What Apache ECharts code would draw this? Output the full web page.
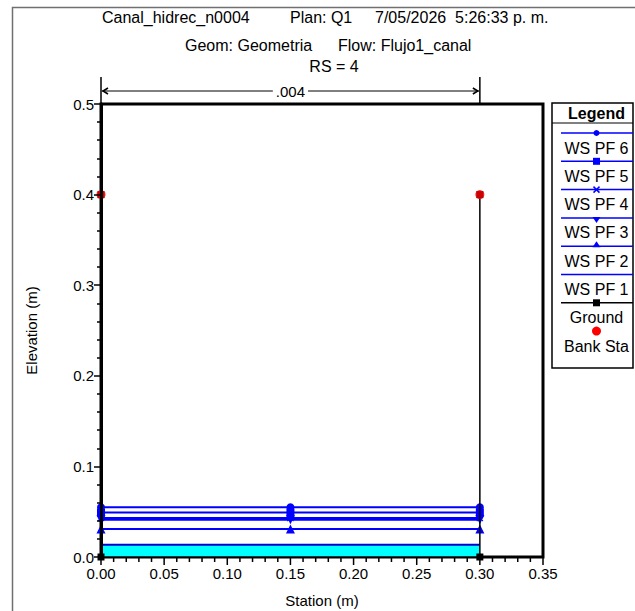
<!DOCTYPE html>
<html>
<head>
    <meta charset="utf-8">
    <script src="https://cdn.jsdelivr.net/npm/echarts@6/dist/echarts.min.js"></script>
    <style>
        html, body { margin: 0; padding: 0; background: #fff; }
        #chart { width: 635px; height: 611px; }
    </style>
</head>
<body>
    <div id="chart"></div>
    <script>
        // cross section data
        let stations = [0, 0.15, 0.30];
        let wsNames = ['WS PF 6', 'WS PF 5', 'WS PF 4', 'WS PF 3', 'WS PF 2', 'WS PF 1'];
        let wsElev = [0.055, 0.049, 0.043, 0.041, 0.031, 0.0135];
        let groundSta = [0, 0, 0.30, 0.30];
        let groundElev = [0.4, 0, 0, 0.4];
        let bankSta = [0, 0.30];
        let bankElev = [0.4, 0.4];
        let xTicks = ['0.00', '0.05', '0.10', '0.15', '0.20', '0.25', '0.30', '0.35'];
        let yTicks = ['0.0', '0.1', '0.2', '0.3', '0.4', '0.5'];
        let reachLabel = '.004';

        const FONT = 'Liberation Sans, Arial, sans-serif';
        const blue = '#0000ff';
        const xMark = 'path://M1,0L5,4L9,0L10,1L6,5L10,9L9,10L5,6L1,10L0,9L4,5L0,1Z';
        const triDown = 'path://M0,0L10,0L5,9Z';
        const wsSymbols = ['circle', 'rect', xMark, triDown, 'triangle', 'none'];
        const wsSizes = [8, 8, 7, 9, 9, 0];

        var chart = echarts.init(document.getElementById('chart'), null, { renderer: 'svg' });

        let series = [];
        wsNames.forEach((name, i) => {
            let s = {
                name: name,
                type: 'line',
                data: stations.map(x => [x, wsElev[i]]),
                symbol: wsSymbols[i],
                symbolSize: wsSizes[i],
                showSymbol: wsSymbols[i] !== 'none',
                lineStyle: { color: blue, width: 2 },
                itemStyle: { color: blue },
                z: 5
            };
            if (i === wsNames.length - 1) {
                s.areaStyle = { color: '#00ffff', opacity: 1, origin: 'start' };
                s.lineStyle = { color: '#0000d0', width: 2 };
                s.z = 4;
            }
            series.push(s);
        });
        series.push({
            name: 'Ground',
            type: 'line',
            data: groundSta.map((x, i) => [x, groundElev[i]]),
            symbol: 'rect',
            symbolSize: 7,
            lineStyle: { color: '#000', width: 1.5 },
            itemStyle: { color: '#000' },
            z: 6
        });
        series.push({
            name: 'Bank Sta',
            type: 'scatter',
            data: bankSta.map((x, i) => [x, bankElev[i]]),
            symbol: 'circle',
            symbolSize: 9,
            itemStyle: { color: '#ff0000' },
            z: 7
        });

        const tickStyle = { color: '#000', width: 1.5 };

        var option = {
            animation: false,
            grid: {
                left: 101, right: 92, top: 104, bottom: 54,
                outerBoundsMode: 'none',
                show: true,
                borderColor: '#000',
                borderWidth: 3,
                backgroundColor: 'transparent'
            },
            xAxis: {
                type: 'value',
                min: 0, max: 0.35, interval: 0.05,
                name: 'Station (m)',
                nameLocation: 'middle',
                nameGap: 36,
                nameTextStyle: { fontFamily: FONT, fontSize: 15, color: '#000' },
                axisLine: { show: false },
                axisTick: { show: false },  // drawn below as graphic, the built-in ones don't show here
                splitLine: { show: false },
                axisLabel: {
                    margin: 9,
                    fontFamily: FONT, fontSize: 15, color: '#000',
                    formatter: v => xTicks[Math.round(v / 0.05)]
                }
            },
            yAxis: {
                type: 'value',
                min: 0, max: 0.5, interval: 0.1,
                name: 'Elevation (m)',
                nameLocation: 'middle',
                nameGap: 62,
                nameTextStyle: { fontFamily: FONT, fontSize: 15, color: '#000' },
                axisLine: { show: true, onZero: false, lineStyle: { color: '#000', width: 3 } },
                axisTick: { show: true, inside: false, length: 7, lineStyle: tickStyle },
                minorTick: { show: true, splitNumber: 5, length: 4, lineStyle: tickStyle },
                splitLine: { show: false },
                axisLabel: {
                    margin: 7,
                    fontFamily: FONT, fontSize: 15, color: '#000',
                    formatter: v => yTicks[Math.round(v / 0.1)]
                },
                z: 10
            },
            series: series
        };
        chart.setOption(option);

        // header, reach length annotation and legend box
        let g = [];
        const txt = (x, y, text, opts) => Object.assign({
            type: 'text', x: x, y: y,
            style: Object.assign({ text: text, font: '16px ' + FONT, fill: '#000', textVerticalAlign: 'middle' }, opts || {})
        });

        // outer frame of the window
        g.push({ type: 'polyline', shape: { points: [[12.5, 611], [12.5, 7.5], [635, 7.5]] },
            style: { stroke: '#707070', lineWidth: 1.5, fill: null } });

        // station ticks every 0.01, longer at the labelled ones
        for (let k = 0; k <= 35; k++) {
            let p = chart.convertToPixel({ gridIndex: 0 }, [k / 100, 0]);
            g.push({ type: 'line', z: 100, shape: { x1: p[0], y1: p[1] + 1, x2: p[0], y2: p[1] + (k % 5 === 0 ? 8 : 5) },
                style: { stroke: '#000', lineWidth: 1.5 } });
        }

        g.push(txt(102, 17, 'Canal_hidrec_n0004'));
        g.push(txt(290, 17, 'Plan: Q1'));
        g.push(txt(375, 17, '7/05/2026  5:26:33 p. m.'));
        g.push(txt(185, 45, 'Geom: Geometria'));
        g.push(txt(338, 45, 'Flow: Flujo1_canal'));
        g.push(txt(334, 66, 'RS = 4', { textAlign: 'center' }));

        let pL = chart.convertToPixel({ gridIndex: 0 }, [bankSta[0], 0.5]);
        let pR = chart.convertToPixel({ gridIndex: 0 }, [bankSta[1], 0.5]);
        let ay = pL[1] - 13;
        g.push({ type: 'line', shape: { x1: pL[0], y1: pL[1], x2: pL[0], y2: pL[1] - 27 }, style: { stroke: '#000', lineWidth: 1.5 } });
        g.push({ type: 'line', shape: { x1: pR[0], y1: pR[1], x2: pR[0], y2: pR[1] - 27 }, style: { stroke: '#000', lineWidth: 1.5 } });
        g.push({ type: 'line', shape: { x1: pL[0] + 1, y1: ay, x2: pR[0] - 1, y2: ay }, style: { stroke: '#000', lineWidth: 1 } });
        g.push({ type: 'polyline', shape: { points: [[pL[0] + 7, ay - 3], [pL[0] + 2, ay], [pL[0] + 7, ay + 3]] }, style: { stroke: '#000', lineWidth: 1.5, fill: null } });
        g.push({ type: 'polyline', shape: { points: [[pR[0] - 7, ay - 3], [pR[0] - 2, ay], [pR[0] - 7, ay + 3]] }, style: { stroke: '#000', lineWidth: 1.5, fill: null } });
        g.push(txt((pL[0] + pR[0]) / 2, ay, reachLabel, { textAlign: 'center', backgroundColor: '#fff', padding: [0, 3], font: '15px ' + FONT }));

        // legend
        const lx = 552, lw = 81, ltop = 103, lh = 265;
        const cx = lx + lw / 2 + 4;
        g.push({ type: 'rect', shape: { x: lx, y: ltop, width: lw, height: lh }, style: { stroke: '#000', lineWidth: 1.5, fill: '#fff' } });
        g.push({ type: 'line', shape: { x1: lx, y1: ltop + 20, x2: lx + lw, y2: ltop + 20 }, style: { stroke: '#000', lineWidth: 1 } });
        g.push(txt(cx, ltop + 10, 'Legend', { textAlign: 'center', font: 'bold 16px ' + FONT }));
        let names = wsNames.concat(['Ground', 'Bank Sta']);
        names.forEach((name, i) => {
            let y = 133 + i * 28.3;
            if (i < 7) {
                let col = i < 6 ? blue : '#000';
                g.push({ type: 'line', shape: { x1: lx + 9, y1: y, x2: lx + lw, y2: y }, style: { stroke: col, lineWidth: 1.5 } });
                if (i === 0) g.push({ type: 'circle', shape: { cx: cx, cy: y, r: 3 }, style: { fill: col } });
                if (i === 1 || i === 6) g.push({ type: 'rect', shape: { x: cx - 3.5, y: y - 3.5, width: 7, height: 7 }, style: { fill: col } });
                if (i === 2) g.push({ type: 'polyline', shape: { points: [[cx - 3, y - 3], [cx + 3, y + 3]] }, style: { stroke: col, lineWidth: 1.5 } },
                    { type: 'polyline', shape: { points: [[cx - 3, y + 3], [cx + 3, y - 3]] }, style: { stroke: col, lineWidth: 1.5 } });
                if (i === 3) g.push({ type: 'polygon', shape: { points: [[cx - 4, y - 1], [cx + 4, y - 1], [cx, y + 5]] }, style: { fill: col } });
                if (i === 4) g.push({ type: 'polygon', shape: { points: [[cx - 4, y + 1], [cx + 4, y + 1], [cx, y - 5]] }, style: { fill: col } });
            } else {
                g.push({ type: 'circle', shape: { cx: cx, cy: y, r: 4.5 }, style: { fill: '#ff0000' } });
            }
            g.push(txt(cx, y + 15, name, { textAlign: 'center', font: '16px ' + FONT }));
        });

        chart.setOption({ graphic: { elements: g } });
    </script>
</body>
</html>
